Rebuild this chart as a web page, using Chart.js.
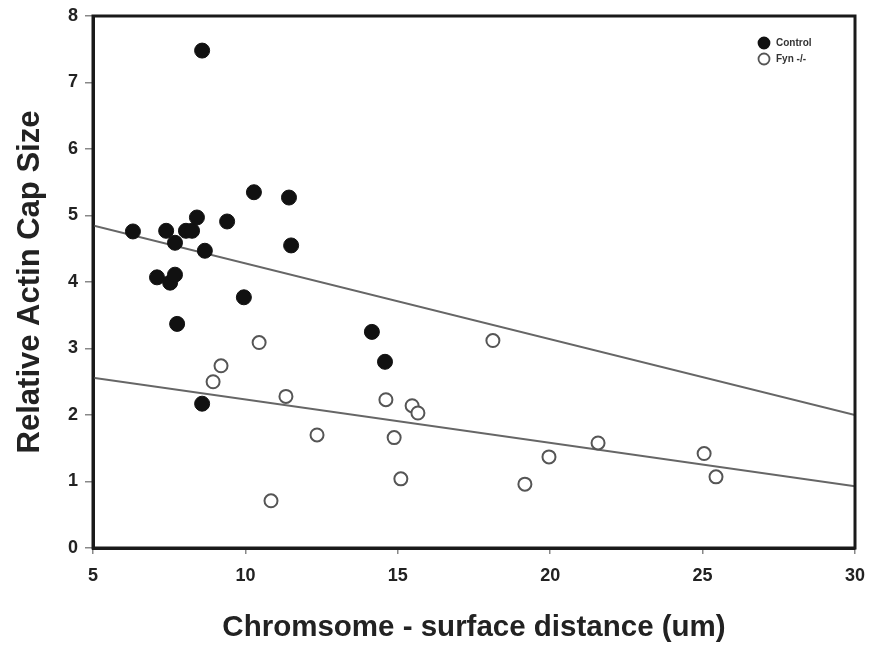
<!DOCTYPE html>
<html>
<head>
<meta charset="utf-8">
<script src="https://cdn.jsdelivr.net/npm/chart.js@4/dist/chart.umd.min.js"></script>
<style>
  html, body { margin: 0; padding: 0; background: #fff; }
  #wrap { width: 869px; height: 646px; }
</style>
</head>
<body>
<div id="wrap"><canvas id="c" width="869" height="646"></canvas></div>
<script>
// ---- data ----
const controlX = [6.31, 7.40, 7.10, 7.53, 7.69, 7.69, 8.05, 8.25, 8.41, 8.58, 8.67, 9.40, 10.28, 11.43, 11.50, 9.95, 7.76, 14.15, 14.58, 8.58];
const controlY = [4.76, 4.77, 4.07, 3.99, 4.11, 4.59, 4.77, 4.77, 4.97, 7.48, 4.47, 4.91, 5.35, 5.27, 4.55, 3.77, 3.37, 3.25, 2.80, 2.17];
const fynX = [10.45, 9.20, 8.94, 11.33, 12.35, 10.84, 14.61, 15.47, 15.66, 14.88, 15.10, 18.12, 21.57, 19.96, 19.17, 25.05, 25.44];
const fynY = [3.09, 2.74, 2.50, 2.28, 1.70, 0.71, 2.23, 2.14, 2.03, 1.66, 1.04, 3.12, 1.58, 1.37, 0.96, 1.42, 1.07];
const fitX = [5, 30];
const controlFitY = [4.85, 2.00];
const fynFitY = [2.56, 0.93];
const seriesNames = ["Control", "Fyn -/-"];
const xTitle = "Chromsome - surface distance (um)";
const yTitle = "Relative Actin Cap Size";

const pts = (xs, ys) => xs.map((x, i) => ({ x: x, y: ys[i] }));
const FONT = '"Liberation Sans", Arial, sans-serif';

const frame = {
  id: 'frame',
  afterDatasetsDraw(chart) {
    const { ctx, chartArea: a } = chart;
    ctx.save();
    ctx.strokeStyle = '#1a1a1a';
    ctx.lineWidth = 3;
    ctx.strokeRect(a.left, a.top, a.right - a.left, a.bottom - a.top);
    ctx.restore();
  }
};

const legendBox = {
  id: 'legendBox',
  afterDraw(chart) {
    const { ctx } = chart;
    const items = [
      { name: seriesNames[0], fill: '#111', stroke: '#111', y: 43 },
      { name: seriesNames[1], fill: '#fff', stroke: '#555', y: 59 }
    ];
    ctx.save();
    items.forEach(it => {
      ctx.beginPath();
      ctx.arc(764, it.y, 5.5, 0, Math.PI * 2);
      ctx.fillStyle = it.fill;
      ctx.fill();
      ctx.lineWidth = 1.8;
      ctx.strokeStyle = it.stroke;
      ctx.stroke();
      ctx.fillStyle = '#333';
      ctx.font = 'bold 10px ' + FONT;
      ctx.textBaseline = 'middle';
      ctx.textAlign = 'left';
      ctx.fillText(it.name, 776, it.y + 0.5);
    });
    ctx.restore();
  }
};

new Chart(document.getElementById('c'), {
  type: 'scatter',
  data: {
    datasets: [
      {
        label: seriesNames[0],
        data: pts(controlX, controlY),
        backgroundColor: '#111',
        borderColor: '#111',
        pointRadius: 7.5,
        borderWidth: 1,
        order: 1
      },
      {
        label: seriesNames[1],
        data: pts(fynX, fynY),
        backgroundColor: '#fff',
        borderColor: '#555',
        pointRadius: 6.5,
        borderWidth: 2,
        order: 1
      },
      {
        type: 'line',
        label: 'Control fit',
        data: pts(fitX, controlFitY),
        borderColor: '#666',
        borderWidth: 2,
        pointRadius: 0,
        fill: false,
        order: 2
      },
      {
        type: 'line',
        label: 'Fyn fit',
        data: pts(fitX, fynFitY),
        borderColor: '#666',
        borderWidth: 2,
        pointRadius: 0,
        fill: false,
        order: 2
      }
    ]
  },
  options: {
    responsive: false,
    animation: false,
    layout: { padding: { top: 16, right: 14, left: 0, bottom: 0 } },
    plugins: { legend: { display: false }, tooltip: { enabled: false } },
    scales: {
      x: {
        type: 'linear',
        min: 5, max: 30,
        afterFit(s) { s.height = 98; s.paddingLeft = 0; s.paddingRight = 0; },
        ticks: {
          stepSize: 5,
          padding: 11,
          color: '#222',
          font: { family: FONT, size: 18, weight: 'bold' }
        },
        grid: { drawOnChartArea: false, drawTicks: true, tickLength: 6, color: '#888', lineWidth: 1.5 },
        border: { display: true, color: '#1a1a1a', width: 3 },
        title: {
          display: true,
          text: xTitle,
          color: '#222',
          padding: { top: 0, bottom: 0 },
          font: { family: FONT, size: 29.5, weight: 'bold' }
        }
      },
      y: {
        type: 'linear',
        min: 0, max: 8,
        afterFit(s) { s.width = 93; s.paddingTop = 0; s.paddingBottom = 0; },
        ticks: {
          stepSize: 1,
          padding: 7,
          color: '#222',
          font: { family: FONT, size: 18, weight: 'bold' }
        },
        grid: { drawOnChartArea: false, drawTicks: true, tickLength: 8, color: '#888', lineWidth: 1.5 },
        border: { display: true, color: '#1a1a1a', width: 3 },
        title: {
          display: true,
          text: yTitle,
          color: '#222',
          padding: { top: 12, bottom: 0 },
          font: { family: FONT, size: 31, weight: 'bold' }
        }
      }
    }
  },
  plugins: [frame, legendBox]
});
</script>
</body>
</html>
